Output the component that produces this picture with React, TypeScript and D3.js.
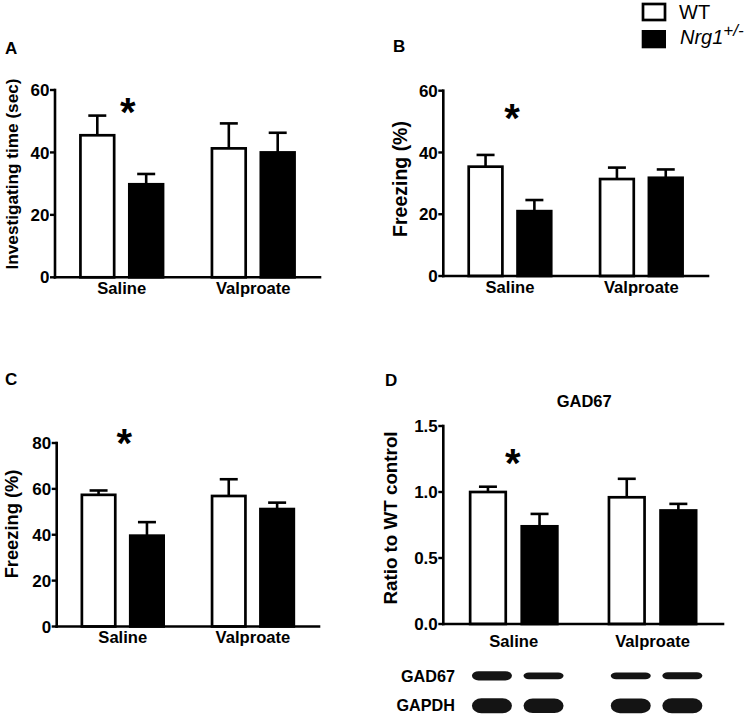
import React from "react";
import * as d3 from "d3";

// ---------- data ----------
const groups = ["Saline", "Valproate"];
const seriesNames = ["WT", "Nrg1+/-"];

// Panel A: investigating time (sec)
const aWT = [45.5, 41.3];
const aWTErr = [6.3, 8.0];
const aNrg = [29.8, 40.0];
const aNrgErr = [3.3, 6.3];
const aTicks = [0, 20, 40, 60];
const aStar = 55.6;

// Panel B: freezing (%)
const bWT = [35.4, 31.4];
const bWTErr = [3.8, 3.7];
const bNrg = [21.0, 31.8];
const bNrgErr = [3.6, 2.7];
const bTicks = [0, 20, 40, 60];
const bStar = 53.8;

// Panel C: freezing (%)
const cWT = [57.4, 56.9];
const cWTErr = [1.9, 7.3];
const cNrg = [39.6, 51.2];
const cNrgErr = [5.9, 2.8];
const cTicks = [0, 20, 40, 60, 80];
const cStar = 83.5;

// Panel D: GAD67 ratio to WT control
const dWT = [1.0, 0.96];
const dWTErr = [0.04, 0.14];
const dNrg = [0.74, 0.86];
const dNrgErr = [0.094, 0.05];
const dTicks = [0, 0.5, 1.0, 1.5];
const dStar = 1.28;

// Western blot (relative band thickness per lane: WT-Sal, Nrg-Sal, WT-Val, Nrg-Val)
const blotLabels = ["GAD67", "GAPDH"];
const gad67Bands = [1.0, 0.72, 0.72, 0.75];
const gapdhBands = [1.0, 0.96, 0.98, 1.0];

// ---------- layout ----------
const FONT = "'Liberation Sans', Arial, Helvetica, sans-serif";

type Layout = {
  left: number; right: number; y0: number; yTop: number;
  letter: string; letterX: number; letterY: number;
  yLabel: string; yLabX: number; yLabCy: number; yLabSize: number;
  catDy: number; starDx: number;
};

const layA: Layout = { left: 55, right: 320, y0: 277.3, yTop: 90, letter: "A", letterX: 5, letterY: 54,
  yLabel: "Investigating time (sec)", yLabX: 18, yLabCy: 174, yLabSize: 17.2, catDy: 16.5, starDx: 6 };
const layB: Layout = { left: 443.3, right: 708, y0: 276, yTop: 90.7, letter: "B", letterX: 393, letterY: 52,
  yLabel: "Freezing (%)", yLabX: 407, yLabCy: 179, yLabSize: 19.5, catDy: 17, starDx: 2 };
const layC: Layout = { left: 56.7, right: 319, y0: 626.5, yTop: 443, letter: "C", letterX: 5, letterY: 385,
  yLabel: "Freezing (%)", yLabX: 18, yLabCy: 524, yLabSize: 18.3, catDy: 16.5, starDx: 1.5 };
const layD: Layout = { left: 443.3, right: 723, y0: 624, yTop: 426, letter: "D", letterX: 385, letterY: 386,
  yLabel: "Ratio to WT control", yLabX: 397, yLabCy: 518, yLabSize: 18.8, catDy: 22.7, starDx: -1 };

function scalesFor(L: Layout, max: number) {
  const x0 = d3.scaleBand<string>().domain(groups).range([L.left, L.right]).paddingInner(0.015).paddingOuter(0.015);
  const x1 = d3.scaleBand<string>().domain(seriesNames).range([0, x0.bandwidth()]).paddingInner(0.31).paddingOuter(0.48);
  const y = d3.scaleLinear().domain([0, max]).range([L.y0, L.yTop]);
  return { x0, x1, y };
}

function Panel(props: {
  L: Layout; wt: number[]; wtErr: number[]; nrg: number[]; nrgErr: number[];
  ticks: number[]; max: number; fmt: (v: number) => string; star: number; title?: string;
}) {
  const { L, wt, wtErr, nrg, nrgErr, ticks, max, fmt, star, title } = props;
  const { x0, x1, y } = scalesFor(L, max);
  const vals = [wt, nrg];
  const errs = [wtErr, nrgErr];
  const sw = 2.7;
  return (
    <g>
      <text x={L.letterX} y={L.letterY} fontSize={17} fontWeight="bold" fontFamily={FONT}>{L.letter}</text>
      {title && (
        <text x={(L.left + L.right) / 2 + 1} y={406.7} textAnchor="middle" fontSize={16.5} fontWeight="bold" fontFamily={FONT}>{title}</text>
      )}
      <text transform={`translate(${L.yLabX},${L.yLabCy}) rotate(-90)`} textAnchor="middle"
        fontSize={L.yLabSize} fontWeight="bold" fontFamily={FONT}>{L.yLabel}</text>
      {/* error bars */}
      {groups.map((g, gi) =>
        seriesNames.map((s, si) => {
          const cx = (x0(g) as number) + (x1(s) as number) + x1.bandwidth() / 2;
          const v = vals[si][gi];
          const e = errs[si][gi];
          return (
            <g key={`e-${g}-${s}`} stroke="#000" strokeWidth={2.6}>
              <line x1={cx} x2={cx} y1={y(v)} y2={y(v + e)} />
              <line x1={cx - 9} x2={cx + 9} y1={y(v + e)} y2={y(v + e)} />
            </g>
          );
        })
      )}
      {/* bars */}
      {groups.map((g, gi) =>
        seriesNames.map((s, si) => {
          const bx = (x0(g) as number) + (x1(s) as number);
          const v = vals[si][gi];
          return (
            <rect key={`b-${g}-${s}`} x={bx} y={y(v)} width={x1.bandwidth()} height={y(0) - y(v)}
              fill={si === 0 ? "#fff" : "#000"} stroke="#000" strokeWidth={sw} />
          );
        })
      )}
      {/* axes */}
      <line x1={L.left} x2={L.left} y1={y(0)} y2={y(max)} stroke="#000" strokeWidth={2.6} strokeLinecap="square" />
      <line x1={L.left} x2={L.right} y1={y(0)} y2={y(0)} stroke="#000" strokeWidth={2.6} strokeLinecap="square" />
      {ticks.map((t) => (
        <g key={`t-${t}`}>
          <line x1={L.left - 5} x2={L.left} y1={y(t)} y2={y(t)} stroke="#000" strokeWidth={2.4} />
          <text x={L.left - 5.5} y={y(t)} dy="0.36em" textAnchor="end" fontSize={17} fontWeight="bold" fontFamily={FONT}>{fmt(t)}</text>
        </g>
      ))}
      {groups.map((g) => (
        <text key={`c-${g}`} x={(x0(g) as number) + x0.bandwidth() / 2} y={L.y0 + L.catDy} textAnchor="middle"
          fontSize={16.6} fontWeight="bold" fontFamily={FONT}>{g}</text>
      ))}
      <text x={(x0(groups[0]) as number) + x0.bandwidth() / 2 + L.starDx} y={y(star) + 22} textAnchor="middle"
        fontSize={40} fontWeight="bold" fontFamily={FONT}>*</text>
    </g>
  );
}

function Blot() {
  const { x0, x1 } = scalesFor(layD, 1.5);
  const rows = [
    { label: blotLabels[0], bands: gad67Bands, cy: 675.8, h: 9.3, base: 682.3 },
    { label: blotLabels[1], bands: gapdhBands, cy: 705.8, h: 15, base: 711 },
  ];
  return (
    <g>
      {rows.map((r) => (
        <g key={r.label}>
          <text x={455} y={r.base} textAnchor="end" fontSize={16.2} fontWeight="bold" fontFamily={FONT}>{r.label}</text>
          {groups.map((g, gi) =>
            seriesNames.map((s, si) => {
              const lane = gi * 2 + si;
              const cx = (x0(g) as number) + (x1(s) as number) + x1.bandwidth() / 2 + 4;
              const h = r.h * r.bands[lane];
              const w = 40;
              return (
                <rect key={`${r.label}-${lane}`} x={cx - w / 2} y={r.cy - h / 2} width={w} height={h}
                  rx={Math.min(h / 2 + 2, 10)} ry={h / 2} fill="#141414" />
              );
            })
          )}
        </g>
      ))}
    </g>
  );
}

function Legend() {
  return (
    <g fontFamily={FONT}>
      <rect x={643} y={4} width={22} height={16} fill="#fff" stroke="#000" strokeWidth={2.7} />
      <rect x={641.7} y={30} width={24.3} height={18.3} fill="#000" />
      <text x={679} y={18.5} fontSize={20}>WT</text>
      <text x={680} y={43.5} fontSize={20} fontStyle="italic">
        Nrg1
        <tspan dy={-8} fontSize={17}>+/-</tspan>
      </text>
    </g>
  );
}

export default function App() {
  const f0 = (v: number) => d3.format("d")(v);
  const f1 = (v: number) => d3.format(".1f")(v);
  return (
    <svg width={755} height={719} style={{ position: "absolute", left: 0, top: 0, background: "#fff" }}>
      <rect x={0} y={0} width={755} height={719} fill="#fff" />
      <Legend />
      <Panel L={layA} wt={aWT} wtErr={aWTErr} nrg={aNrg} nrgErr={aNrgErr} ticks={aTicks} max={60} fmt={f0} star={aStar} />
      <Panel L={layB} wt={bWT} wtErr={bWTErr} nrg={bNrg} nrgErr={bNrgErr} ticks={bTicks} max={60} fmt={f0} star={bStar} />
      <Panel L={layC} wt={cWT} wtErr={cWTErr} nrg={cNrg} nrgErr={cNrgErr} ticks={cTicks} max={80} fmt={f0} star={cStar} />
      <Panel L={layD} wt={dWT} wtErr={dWTErr} nrg={dNrg} nrgErr={dNrgErr} ticks={dTicks} max={1.5} fmt={f1} star={dStar} title="GAD67" />
      <Blot />
    </svg>
  );
}
